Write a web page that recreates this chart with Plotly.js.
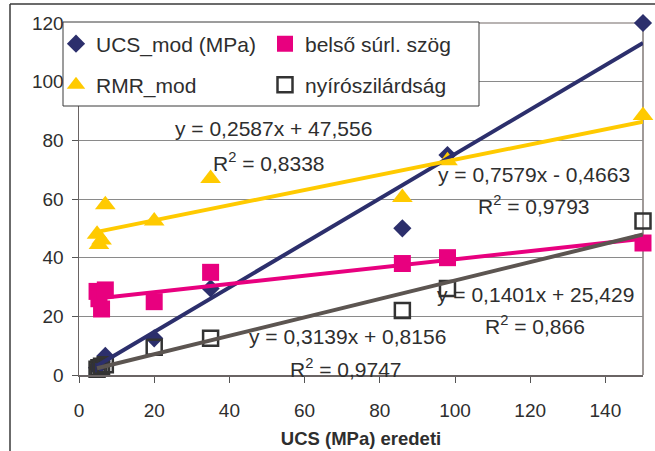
<!DOCTYPE html>
<html>
<head>
<meta charset="utf-8">
<script src="https://cdn.plot.ly/plotly-3.0.1.min.js"></script>
<style>
  html, body { margin: 0; padding: 0; background: #ffffff; }
  #chart { width: 655px; height: 451px; }
</style>
</head>
<body>
<div id="chart"></div>
<script>
// Original uniaxial compressive strength (x) and the derived quantities
const ucsOrig    = [4.8, 5.3, 6.0, 7.0, 20, 35, 86, 98, 150];
const ucsMod     = [2.5, 3.5, 4.5, 6.5, 12.5, 29.5, 50, 75, 120];
const belsoSurl  = [28.5, 26, 22.5, 29, 25, 35, 38, 40, 45];
const rmrMod     = [48, 44.5, 46, 58, 52.5, 67, 60.5, 73, 88.5];
const nyiro      = [2, 2.5, 3, 3.5, 9.5, 12.5, 22, 29.5, 52.5];

const seriesNames = ['UCS_mod (MPa)', 'belső súrl. szög', 'RMR_mod', 'nyírószilárdság'];
const xTitle = 'UCS (MPa) eredeti';
const xTicks = [0, 20, 40, 60, 80, 100, 120, 140];
const yTicks = [0, 20, 40, 60, 80, 100, 120];

// Linear trend lines: slope, intercept, R²
const trendUcs   = [0.7579, -0.4663, 0.9793];
const trendBelso = [0.1401, 25.429, 0.866];
const trendRmr   = [0.2587, 47.556, 0.8338];
const trendNyiro = [0.3139, 0.8156, 0.9747];

const FONT = 'Liberation Sans, Arial, Helvetica, sans-serif';
const TXT = '#2e2e2e';

const cNavy = '#2c2f6c';
const cPink = '#e8007f';
const cYellow = '#ffca00';
const cGrayLine = '#5c5551';
const cSquare = '#333333';

const xMin = Math.min(...ucsOrig);
const xMax = Math.max(...ucsOrig);

function fmt(v) { return String(Math.abs(v)).replace('.', ','); }
function eqText(t) {
  return 'y = ' + fmt(t[0]) + 'x ' + (t[1] < 0 ? '- ' : '+ ') + fmt(t[1]);
}
function r2Text(t) { return 'R<sup>2</sup> = ' + fmt(t[2]); }
function trendTrace(t, color) {
  const xs = [xMin, xMax];
  return {
    x: xs, y: xs.map(v => t[0] * v + t[1]),
    mode: 'lines', line: { color: color, width: 4 },
    showlegend: false, hoverinfo: 'skip', cliponaxis: false
  };
}

const traces = [
  { x: ucsOrig, y: ucsMod, name: seriesNames[0], mode: 'markers', legend: 'legend',
    marker: { symbol: 'diamond', size: 14, color: cNavy }, cliponaxis: false },
  { x: ucsOrig, y: belsoSurl, name: seriesNames[1], mode: 'markers', legend: 'legend2',
    marker: { symbol: 'square', size: 17, color: cPink }, cliponaxis: false },
  { x: ucsOrig, y: rmrMod, name: seriesNames[2], mode: 'markers', legend: 'legend3',
    marker: { symbol: 'triangle-up', size: 18, color: cYellow }, cliponaxis: false },
  { x: ucsOrig, y: nyiro, name: seriesNames[3], mode: 'markers', legend: 'legend4',
    marker: { symbol: 'square-open', size: 15, color: cSquare, line: { width: 2.5, color: cSquare } },
    cliponaxis: false },
  trendTrace(trendUcs, cNavy),
  trendTrace(trendBelso, cPink),
  trendTrace(trendRmr, cYellow),
  trendTrace(trendNyiro, cGrayLine)
];

// plot-area geometry used to place paper-referenced items
const M = { l: 79, r: 12, t: 23, b: 76 };
const W = 655, H = 451;
const pw = W - M.l - M.r, ph = H - M.t - M.b;
const px = v => (v - M.l) / pw;
const py = v => (H - M.b - v) / ph;

function legendAt(xp, yp) {
  return {
    x: px(xp), y: py(yp), xanchor: 'left', yanchor: 'middle',
    bgcolor: 'rgba(0,0,0,0)', borderwidth: 0,
    font: { family: FONT, size: 21, color: TXT }
  };
}

function note(text, x, y) {
  return { text: text, x: x, y: y, xref: 'x', yref: 'y', showarrow: false,
    xanchor: 'center', yanchor: 'middle',
    font: { family: FONT, size: 21, color: TXT } };
}

const layout = {
  width: W, height: H,
  margin: M,
  paper_bgcolor: '#ffffff', plot_bgcolor: '#ffffff',
  font: { family: FONT, color: TXT },
  xaxis: {
    range: [0, 150], tickvals: xTicks, ticktext: xTicks.map(String),
    ticks: 'outside', ticklen: 6, tickcolor: '#555', tickwidth: 1,
    showline: true, linecolor: '#6a6464', linewidth: 1.5,
    showgrid: false, zeroline: false,
    tickfont: { family: FONT, size: 19, color: TXT },
    ticklabelstandoff: 12,
    title: { text: '<b>' + xTitle + '</b>', font: { family: FONT, size: 18.5, color: TXT }, standoff: 12 }
  },
  yaxis: {
    range: [0, 120], tickvals: yTicks, ticktext: yTicks.map(String),
    ticks: 'outside', ticklen: 6, tickcolor: '#555', tickwidth: 1,
    showline: true, linecolor: '#6a6464', linewidth: 1.5,
    showgrid: true, gridcolor: '#8a8a8a', gridwidth: 1, zeroline: false,
    tickfont: { family: FONT, size: 19, color: TXT },
    ticklabelstandoff: 4
  },
  legend: legendAt(56, 44),
  legend2: legendAt(265, 44),
  legend3: legendAt(56, 85),
  legend4: legendAt(265, 85),
  shapes: [
    // outer chart frame (top and left edges)
    { type: 'line', xref: 'paper', yref: 'paper', x0: px(10), x1: px(670), y0: py(4), y1: py(4),
      line: { color: '#3a3a3a', width: 1.5 } },
    { type: 'line', xref: 'paper', yref: 'paper', x0: px(10), x1: px(10), y0: py(4), y1: py(470),
      line: { color: '#3a3a3a', width: 1.5 } },
    // plot-area border on the top and right
    { type: 'line', xref: 'paper', yref: 'paper', x0: 0, x1: 1, y0: 1, y1: 1,
      line: { color: '#a09a98', width: 1.5 }, layer: 'below' },
    { type: 'line', xref: 'paper', yref: 'paper', x0: 1, x1: 1, y0: 0, y1: 1,
      line: { color: '#a09a98', width: 2 }, layer: 'below' },
    // legend box
    { type: 'rect', xref: 'paper', yref: 'paper', x0: px(63), x1: px(479), y0: py(106), y1: py(22),
      line: { color: '#3a3a3a', width: 1 }, fillcolor: '#ffffff', layer: 'above' }
  ],
  annotations: [
    note(eqText(trendRmr), 51.6, 83.9),
    note(r2Text(trendRmr), 50.4, 72.6),
    note(eqText(trendUcs), 121.1, 68.2),
    note(r2Text(trendUcs), 121.0, 58.0),
    note(eqText(trendBelso), 121.3, 27.3),
    note(r2Text(trendBelso), 121.3, 17.0),
    note(eqText(trendNyiro), 71.3, 13.0),
    note(r2Text(trendNyiro), 71.0, 2.4)
  ]
};

Plotly.newPlot('chart', traces, layout, { displayModeBar: false, staticPlot: true });
</script>
</body>
</html>
